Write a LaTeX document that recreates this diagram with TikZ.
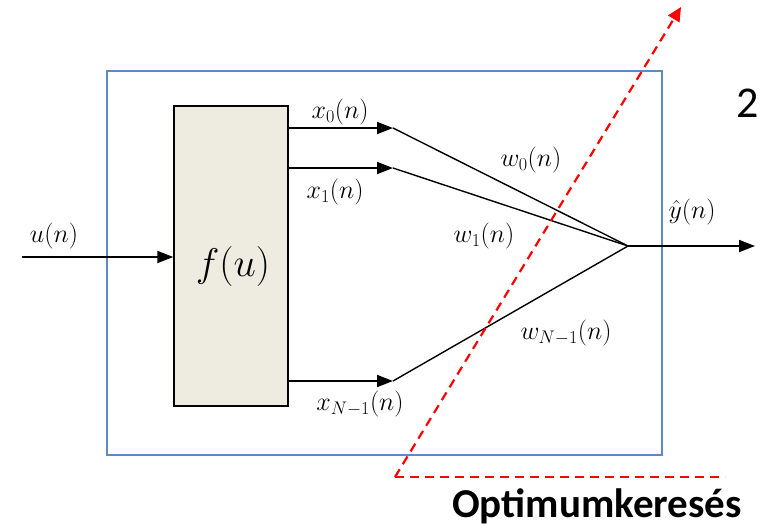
\RequirePackage{fix-cm}
\documentclass[tikz,border=0pt]{standalone}
\usepackage{fontspec}
\newfontfamily\carlito{Carlito}
\usetikzlibrary{arrows.meta}
\definecolor{frameblue}{HTML}{5B8BC6}
\definecolor{boxfill}{HTML}{EEEBE0}
\tikzset{
  sig/.style={line width=1.8pt,-{Triangle[length=16pt,width=12pt]}},
  wline/.style={line width=1.4pt},
  lab/.style={font=\fontsize{26}{30}\selectfont, inner sep=0pt},
  opt/.style={red, line width=2.2pt, dash pattern=on 9pt off 6pt}
}
\begin{document}
\begin{tikzpicture}[x=1pt,y=-1pt]
\useasboundingbox (0,0) rectangle (763,528);
\node[draw=frameblue, line width=1.4pt, minimum width=555pt, minimum height=384pt, inner sep=0pt] (frame) at (384.5,263) {};
\node[draw=black, fill=boxfill, line width=1.4pt, minimum width=114pt, minimum height=300pt, inner sep=0pt] (fbox) at (231,256) {};
\node[inner sep=0pt, font=\fontsize{40}{44}\selectfont] (flab) at (233,266) {$f(u)$};
\coordinate (in) at (22,257);
\coordinate (x0) at (393,128);
\coordinate (x1) at (393,168);
\coordinate (xN) at (393,381);
\coordinate (sum) at (628,246);
\coordinate (out) at (755,246);
\coordinate (rs) at (395,477);
\coordinate (re) at (681,7);
\coordinate (rh) at (725,477);
\draw[sig] (in) -- (fbox.west |- in);
\draw[sig] (fbox.east |- x0) -- (x0);
\draw[sig] (fbox.east |- x1) -- (x1);
\draw[sig] (fbox.east |- xN) -- (xN);
\draw[wline] (x0) -- (sum);
\draw[wline] (x1) -- (sum);
\draw[wline] (xN) -- (sum);
\draw[sig] (sum) -- (out);
\node[lab] (lu) at (54,236) {$u(n)$};
\node[lab] (lx0) at (340,112) {$x_0(n)$};
\node[lab] (lx1) at (335,192) {$x_1(n)$};
\node[lab] (lxN) at (360,404) {$x_{N-1}(n)$};
\node[lab] (lw0) at (531,160) {$w_0(n)$};
\node[lab] (lw1) at (484,236) {$w_1(n)$};
\node[lab] (lwN) at (566,333) {$w_{N-1}(n)$};
\node[lab] (ly) at (692,212) {$\hat{y}(n)$};
\draw[opt, -{Triangle[length=14pt,width=13pt]}] (rs) -- (re);
\draw[opt] (rs) -- (rh);
\node[inner sep=0pt, font=\carlito\fontsize{44}{48}\selectfont] (two) at (748,103) {2};
\node[inner sep=0pt, font=\carlito\bfseries\fontsize{41}{46}\selectfont] (optlab) at (597,506) {Optimumkeresés};
\end{tikzpicture}
\end{document}
